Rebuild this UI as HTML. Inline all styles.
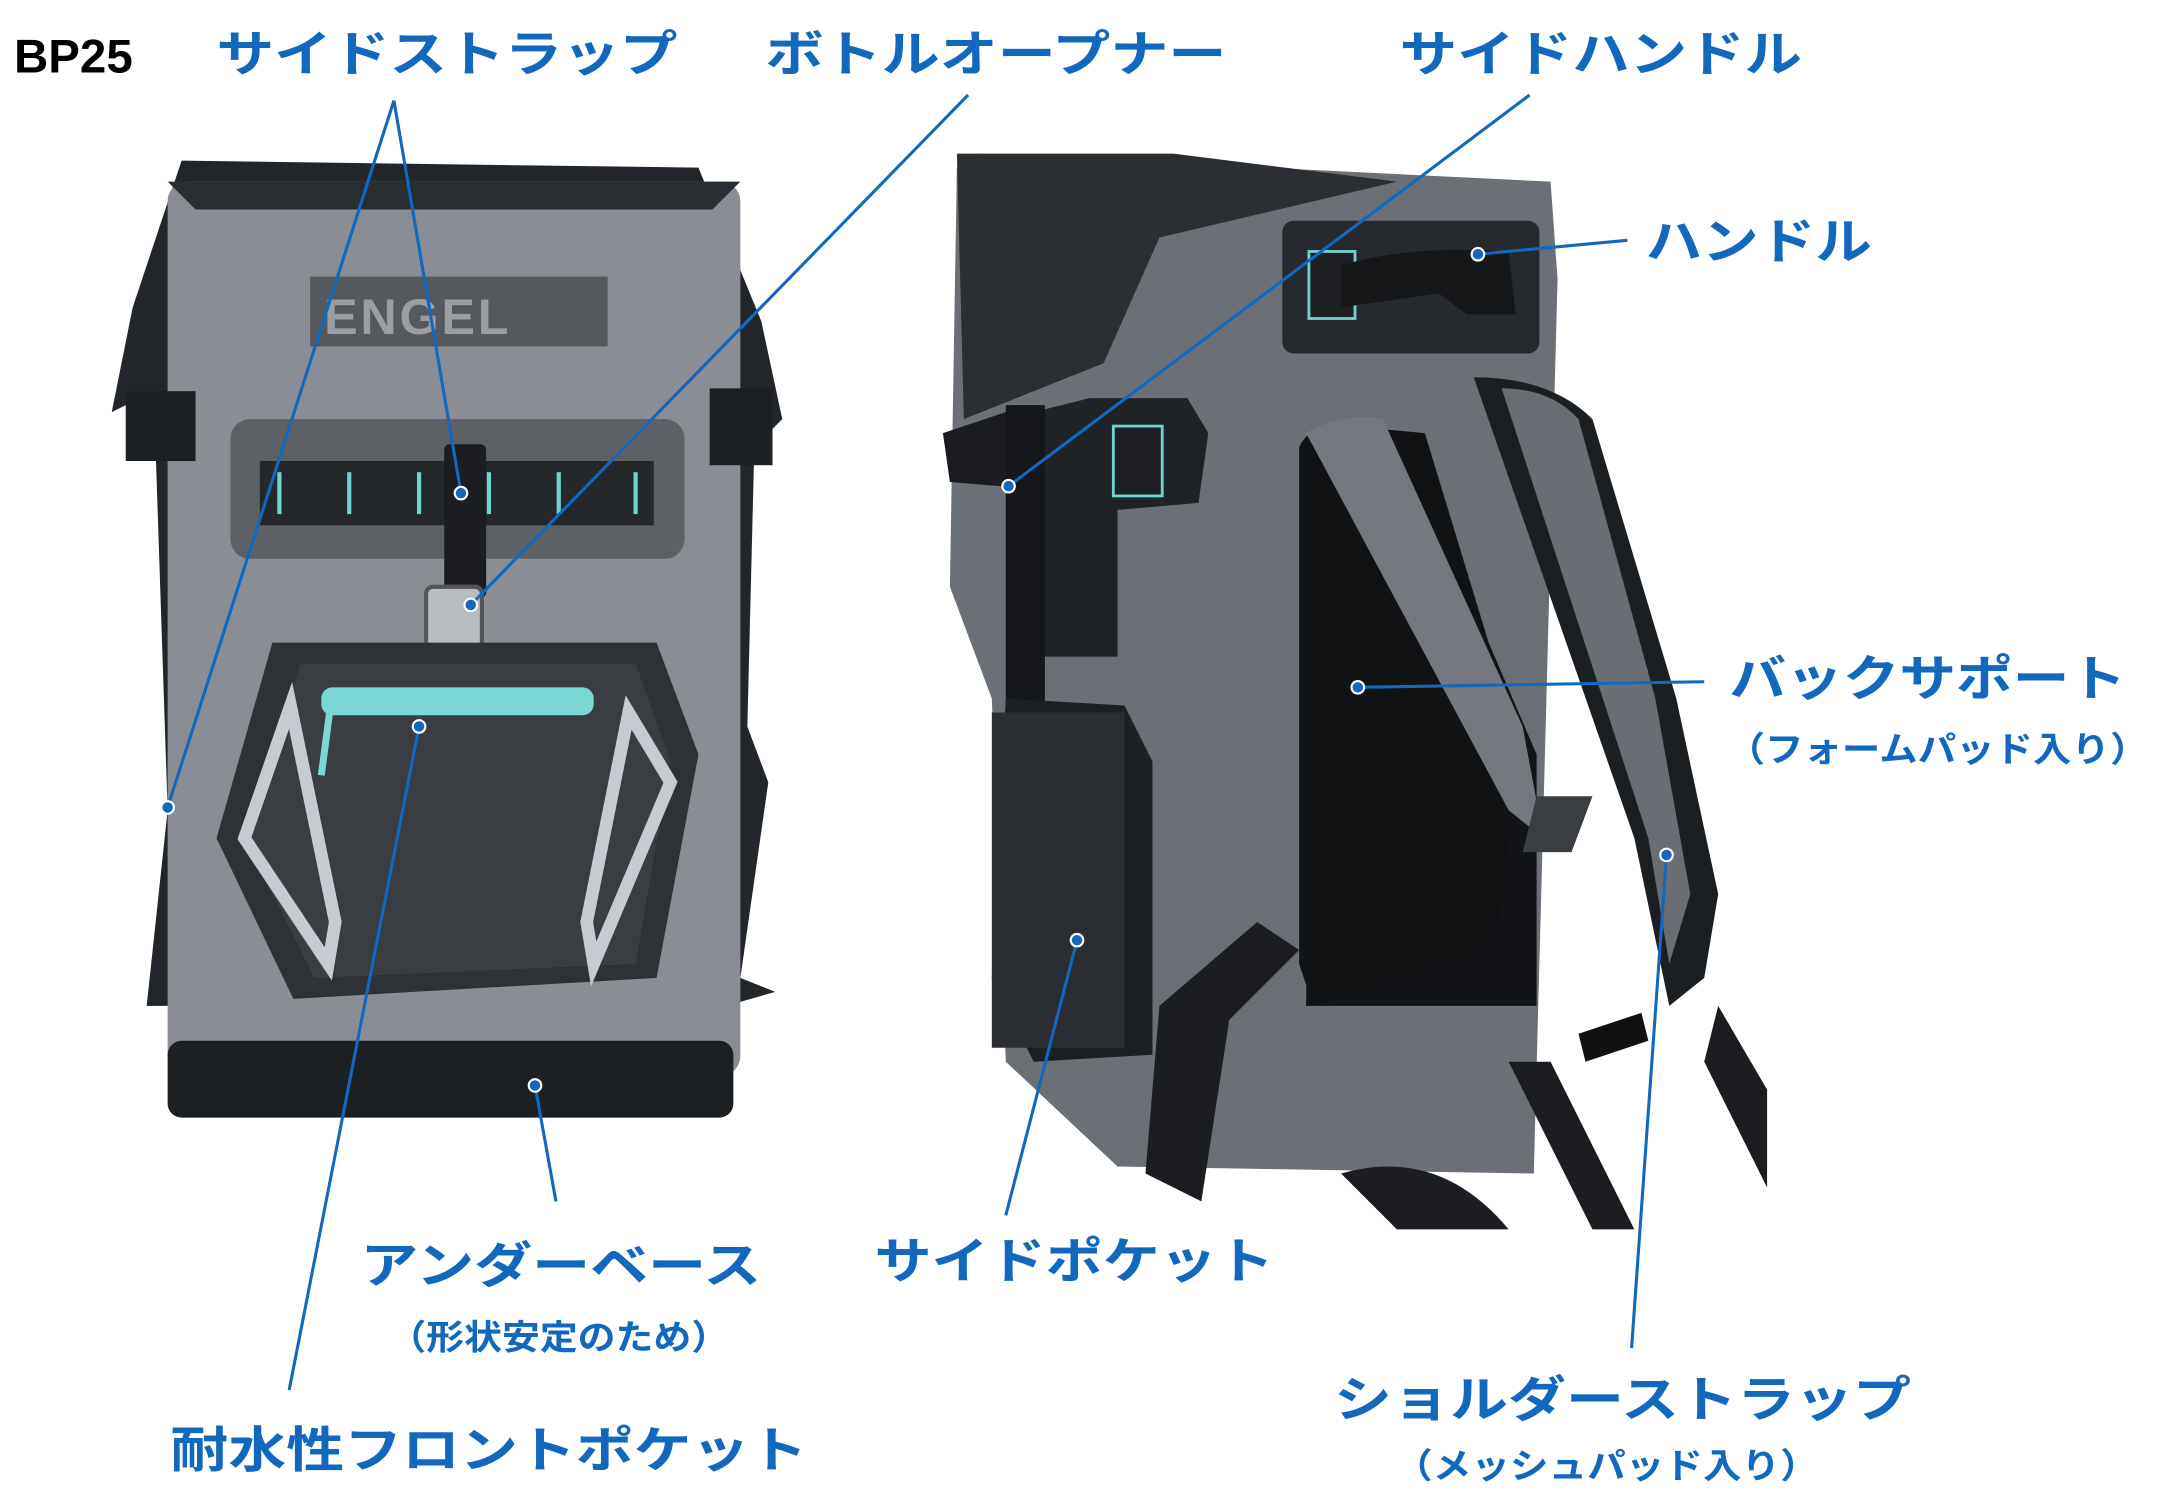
<!DOCTYPE html>
<html><head><meta charset="utf-8"><style>
html,body{margin:0;padding:0;background:#fff;width:2168px;height:1492px;overflow:hidden}
svg{display:block}
text{font-family:"Liberation Sans","Noto Sans CJK JP",sans-serif;font-weight:bold}
</style></head><body>
<svg width="2168" height="1492" viewBox="0 0 1552 1068" preserveAspectRatio="none">
<!-- LEFT BAG -->
<g>
<path d="M105 720 L120 580 L110 280 L80 295 L95 220 L130 115 L500 120 L545 230 L560 300 L540 320 L535 520 L550 560 L530 700 L555 710 L520 720 Z" fill="#22262b"/>
<rect x="120" y="130" width="410" height="640" rx="14" fill="#8a8e94"/>
<path d="M120 130 L530 130 L510 150 L140 150 Z" fill="#2a2d31"/>
<rect x="120" y="745" width="405" height="55" rx="10" fill="#1d2023"/>
<rect x="222" y="198" width="213" height="50" fill="#55585c"/>
<text x="232" y="239" font-size="36" fill="#9a9da1" letter-spacing="2">ENGEL</text>
<rect x="165" y="300" width="325" height="100" rx="14" fill="#5d6166"/>
<rect x="186" y="330" width="282" height="46" fill="#24282b"/>
<g stroke="#6fd3cf" stroke-width="3">
<line x1="200" y1="338" x2="200" y2="368"/><line x1="250" y1="338" x2="250" y2="368"/><line x1="300" y1="338" x2="300" y2="368"/><line x1="350" y1="338" x2="350" y2="368"/><line x1="400" y1="338" x2="400" y2="368"/><line x1="455" y1="338" x2="455" y2="368"/></g>
<rect x="318" y="318" width="30" height="110" rx="4" fill="#1b1d20"/>
<rect x="305" y="420" width="40" height="60" rx="5" fill="#b9bcc0" stroke="#555" stroke-width="3"/>
<path d="M195 460 L470 460 L500 540 L470 700 L210 715 L155 600 Z" fill="#2e3236"/>
<path d="M215 475 L455 475 L480 545 L455 690 L225 700 L175 600 Z" fill="#3a3e42"/>
<path d="M208 505 L240 660 L235 690 L175 600 Z" fill="none" stroke="#c7cad0" stroke-width="9"/>
<path d="M450 510 L420 660 L425 690 L480 560 Z" fill="none" stroke="#c7cad0" stroke-width="9"/>
<rect x="230" y="492" width="195" height="20" rx="8" fill="#79d8d4"/>
<path d="M237 502 L230 555" stroke="#79d8d4" stroke-width="5"/>
<rect x="90" y="280" width="50" height="50" fill="#1d2023"/>
<rect x="508" y="278" width="45" height="55" fill="#1d2023"/>
</g>
<!-- RIGHT BAG -->
<g>
<path d="M700 110 L1110 130 L1115 200 L1098 840 L800 835 L720 760 L710 500 L680 420 L685 120 Z" fill="#6b7077"/>
<path d="M685 110 L840 110 L1000 130 L830 170 L790 260 L690 300 Z" fill="#2b2e32"/>
<rect x="918" y="158" width="184" height="95" rx="8" fill="#26292d"/>
<rect x="937" y="180" width="33" height="48" fill="#1e2023" stroke="#6fd3cf" stroke-width="2"/>
<path d="M960 190 Q1010 175 1080 180 L1085 225 L1050 225 L1030 210 L960 220 Z" fill="#151719"/>
<path d="M780 285 L850 285 L865 310 L858 360 L800 365 L800 470 L730 470 L720 300 Z" fill="#202326"/>
<rect x="797" y="305" width="35" height="50" fill="#1e2023" stroke="#6fd3cf" stroke-width="2"/>
<path d="M675 310 L720 295 L740 350 L680 345 Z" fill="#1a1c1f"/>
<rect x="720" y="290" width="28" height="450" fill="#15171a"/>
<path d="M720 500 L805 505 L825 545 L825 755 L740 760 L710 700 Z" fill="#1d2023"/>
<rect x="710" y="510" width="95" height="240" fill="#2a2d31"/>
<path d="M940 310 Q980 300 1010 330 L1100 540 L1100 720 L935 720 Z" fill="#121417"/>
<path d="M930 320 Q940 300 965 305 L1020 310 L1090 540 L1080 600 L1070 680 L940 720 L930 690 Z" fill="#101214"/>
<path d="M935 310 Q960 295 990 300 L1090 520 L1105 600 L1080 580 Z" fill="#75797f"/>
<path d="M1055 270 Q1110 270 1140 300 L1200 500 L1230 640 L1220 700 L1195 720 L1170 600 Z" fill="#1c1f22"/>
<path d="M1075 278 Q1110 278 1130 300 L1185 500 L1210 640 L1195 690 L1180 600 Z" fill="#6a6e74"/>
<path d="M900 660 L830 720 L820 840 L860 860 L880 730 L930 680 Z" fill="#1b1d20"/>
<path d="M1080 760 L1140 880 L1170 880 L1110 760 Z" fill="#1b1d20"/>
<path d="M1230 720 L1265 780 L1265 850 L1220 760 Z" fill="#1b1d20"/>
<path d="M960 840 Q1030 820 1080 880 L1000 880 Z" fill="#1b1d20"/>
<path d="M1100 570 L1140 570 L1125 610 L1090 610 Z" fill="#3a3d42"/>
<path d="M1130 740 L1175 725 L1180 745 L1135 760 Z" fill="#111"/>
</g>
<!-- connectors -->
<g stroke="#1168bd" stroke-width="2.2" fill="none">
<line x1="282" y1="72" x2="120" y2="578"/>
<line x1="282" y1="72" x2="330" y2="353"/>
<line x1="693" y1="68" x2="337" y2="433"/>
<line x1="1095" y1="68" x2="722" y2="348"/>
<line x1="1165" y1="172" x2="1058" y2="182"/>
<line x1="1220" y1="488" x2="972" y2="492"/>
<line x1="398" y1="860" x2="383" y2="777"/>
<line x1="207" y1="995" x2="300" y2="520"/>
<line x1="720" y1="870" x2="771" y2="673"/>
<line x1="1168" y1="965" x2="1193" y2="612"/>
</g>
<g fill="#1168bd" stroke="#fff" stroke-width="1.5">
<circle cx="120" cy="578" r="4.5"/><circle cx="330" cy="353" r="4.5"/><circle cx="337" cy="433" r="4.5"/>
<circle cx="722" cy="348" r="4.5"/><circle cx="1058" cy="182" r="4.5"/><circle cx="972" cy="492" r="4.5"/>
<circle cx="383" cy="777" r="4.5"/><circle cx="300" cy="520" r="4.5"/><circle cx="771" cy="673" r="4.5"/><circle cx="1193" cy="612" r="4.5"/>
</g>
<!-- labels -->
<text x="10" y="52" font-size="34" fill="#000">BP25</text>
<g fill="#1168bd" font-size="35">
<text x="155" y="51" textLength="330" lengthAdjust="spacingAndGlyphs">サイドストラップ</text>
<text x="548" y="51" textLength="330" lengthAdjust="spacingAndGlyphs">ボトルオープナー</text>
<text x="1002" y="51" textLength="288" lengthAdjust="spacingAndGlyphs">サイドハンドル</text>
<text x="1178" y="185" textLength="162" lengthAdjust="spacingAndGlyphs">ハンドル</text>
<text x="1238" y="498" textLength="284" lengthAdjust="spacingAndGlyphs">バックサポート</text>
<text x="258" y="918" textLength="287" lengthAdjust="spacingAndGlyphs">アンダーベース</text>
<text x="626" y="915" textLength="286" lengthAdjust="spacingAndGlyphs">サイドポケット</text>
<text x="122" y="1050" textLength="456" lengthAdjust="spacingAndGlyphs">耐水性フロントポケット</text>
<text x="955" y="1014" textLength="413" lengthAdjust="spacingAndGlyphs">ショルダーストラップ</text>
</g>
<g fill="#1168bd" font-size="25">
<text x="1236" y="545" textLength="302" lengthAdjust="spacingAndGlyphs">（フォームパッド入り）</text>
<text x="278" y="966" textLength="244" lengthAdjust="spacingAndGlyphs">（形状安定のため）</text>
<text x="998" y="1058" textLength="304" lengthAdjust="spacingAndGlyphs">（メッシュパッド入り）</text>
</g>
</svg>
</body></html>
